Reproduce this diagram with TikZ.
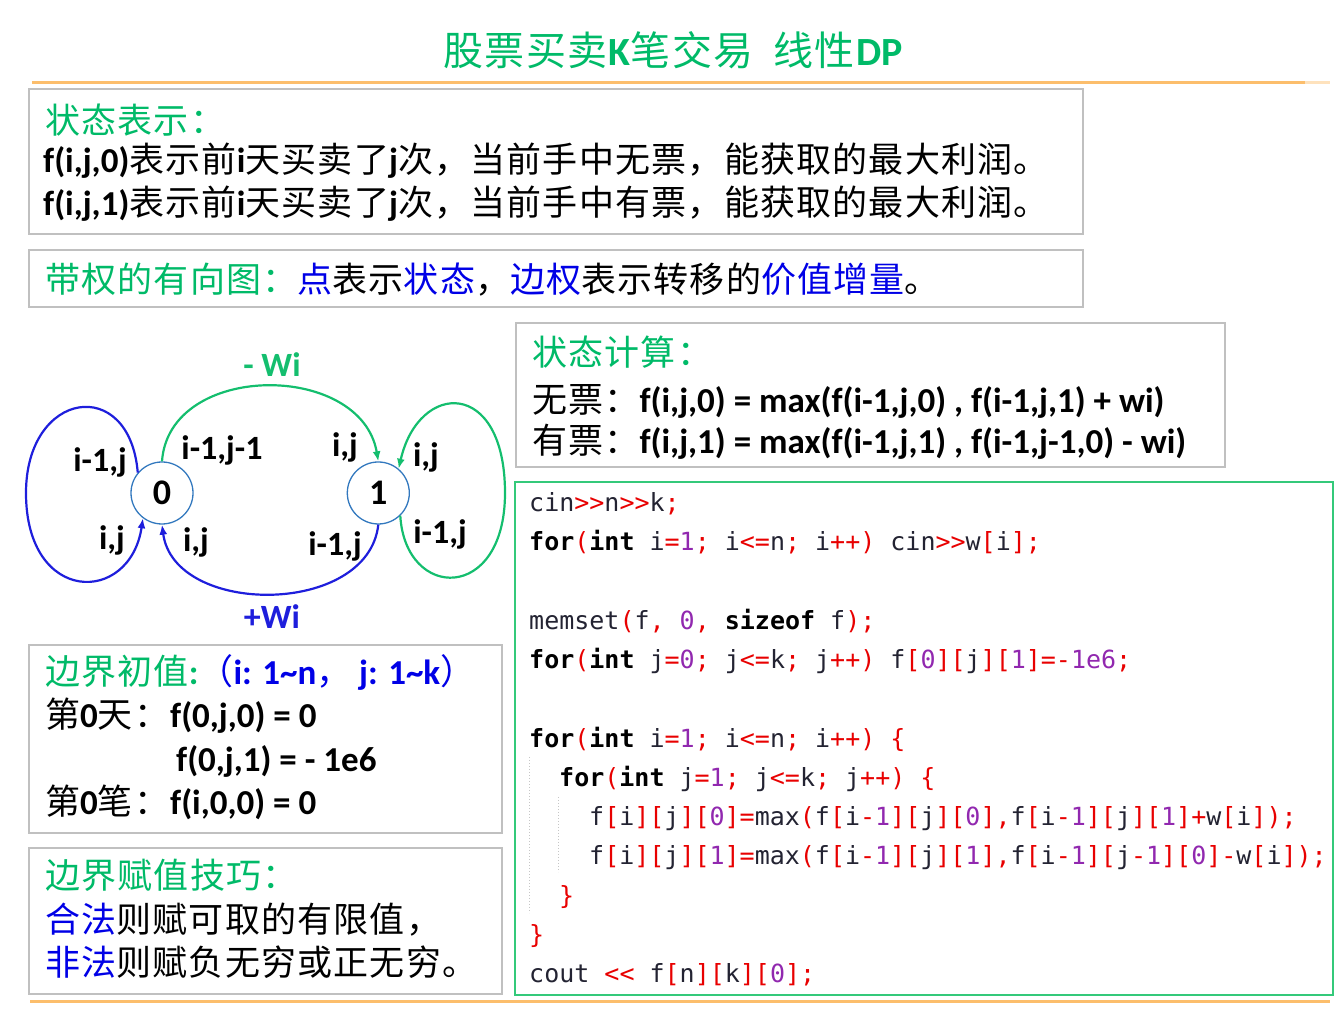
\documentclass[tikz,border=0pt]{standalone}
\usepackage{fontspec}
\setmainfont{Carlito}
\setmonofont{DejaVu Sans Mono}
\newfontfamily\cjkfont{Noto Sans CJK SC}[LetterSpace=3.5]
\usetikzlibrary{arrows.meta, positioning}
\definecolor{cHead}{RGB}{0,186,104}
\definecolor{cBlue}{RGB}{0,0,230}
\definecolor{cFrame}{RGB}{192,192,192}
\definecolor{cCode}{RGB}{52,201,122}
\definecolor{cRule}{RGB}{252,190,108}
\definecolor{cEdge}{RGB}{30,30,220}
\definecolor{cGEdge}{RGB}{20,190,110}
\definecolor{cRing}{RGB}{50,120,190}
\definecolor{cRed}{RGB}{232,0,0}
\definecolor{cNum}{RGB}{145,40,175}
\definecolor{cIdent}{RGB}{35,35,50}
\newcommand\zh[1]{{\mdseries\cjkfont #1}}
\newcommand\hd[1]{\textcolor{cHead}{#1}}
\newcommand\bl[1]{\textcolor{cBlue}{#1}}
\newcommand\codeR[1]{\textcolor{cRed}{#1}}
\newcommand\codeN[1]{\textcolor{cNum}{#1}}
\newcommand\codeK[1]{\textcolor{black}{\bfseries #1}}
\tikzset{
	panel/.style={draw=cFrame, line width=1.6pt},
	codepanel/.style={draw=cCode, line width=1.6pt},
	orangeline/.style={draw=cRule, line width=3pt},
	txt/.style={anchor=base west, inner sep=0pt, font=\bfseries\fontsize{35}{42}\selectfont},
	codeline/.style={anchor=base west, inner sep=0pt, text=cIdent, font=\ttfamily\fontsize{25}{30}\selectfont},
	% state graph styles
	stnode/.style={circle, draw=cRing, line width=1.3pt, minimum size=62pt, inner sep=0pt, font=\bfseries\fontsize{36}{40}\selectfont},
	lbl/.style={inner sep=0pt, font=\bfseries\fontsize{34}{40}\selectfont},
	buy/.style={draw=cGEdge, line width=2.2pt, -{Latex[length=10pt, width=8pt]}},
	sell/.style={draw=cEdge, line width=2.2pt, -{Latex[length=10pt, width=8pt]}},
}
\begin{document}
\begin{tikzpicture}[x=1pt, y=1pt]
	\useasboundingbox (0,0) rectangle (1338,1035);
	\node[anchor=base, inner sep=0pt, text=cHead, font=\fontsize{40}{48}\selectfont] (title) at (673,969)
		{\zh{股票买卖}\textbf{K}\zh{笔交易}\hspace{20pt}\zh{线性}\textbf{DP}};
	\draw[orangeline] (32,952) -- (1305,952); \draw[orangeline, draw=cRule!45] (1305,952) -- (1330,952);
	\draw[orangeline] (30,33) -- (1330,33);

	% boxes
	\draw[panel] (29,801) rectangle (1083,946);
	\draw[panel] (29,728) rectangle (1083,785);
	\draw[panel] (516,568) rectangle (1225,712);
	\draw[panel] (29,202) rectangle (502,390);
	\draw[panel] (29,41) rectangle (502,187);
	\draw[codepanel] (515,40) rectangle (1333,553);

	\node[txt] (s0) at (45,901) {\zh{\hd{状态表示：}}};
	\node[txt] (s1) at (43,862) {f(i,j,0)\zh{表示前}i\zh{天买卖了}j\zh{次，当前手中无票，能获取的最大利润。}};
	\node[txt] (s2) at (43,819) {f(i,j,1)\zh{表示前}i\zh{天买卖了}j\zh{次，当前手中有票，能获取的最大利润。}};
	\node[txt] (e0) at (45,742) {\zh{\hd{带权的有向图：}\bl{点}表示\bl{状态}，\bl{边权}表示转移的\bl{价值增量}。}};

	\node[txt] (c0) at (532,669) {\zh{\hd{状态计算：}}};
	\node[txt] (c1) at (532,622) {\zh{无票：}f(i,j,0) = max(f(i-1,j,0) , f(i-1,j,1) + wi)};
	\node[txt] (c2) at (532,581) {\zh{有票：}f(i,j,1) = max(f(i-1,j,1) , f(i-1,j-1,0) - wi)};

	\node[txt] (b0) at (45,350) {\zh{\hd{边界初值}}\hd{:}\bl{\zh{（}i: 1\textasciitilde n\zh{，} j: 1\textasciitilde k\zh{）}}};
	\node[txt] (b1) at (45,307) {\zh{第}0\zh{天：}};
	\node[txt] (b1f) at (170,307) {f(0,j,0) = 0};
	\node[txt] (b2f) at (176,263) {f(0,j,1) = - 1e6};
	\node[txt] (b3) at (45,220) {\zh{第}0\zh{笔：}};
	\node[txt] (b3f) at (170,220) {f(i,0,0) = 0};

	\node[txt] (t0) at (45,146) {\zh{\hd{边界赋值技巧：}}};
	\node[txt] (t1) at (45,102) {\zh{\bl{合法}则赋可取的有限值，}};
	\node[txt] (t2) at (45,59) {\zh{\bl{非法}则赋负无穷或正无穷。}};

	% code
	\draw[dotted, gray!45, line width=1pt] (529,278) -- (529,122);
	\draw[dotted, gray!45, line width=1pt] (558,238) -- (558,163);
	\node[codeline] (k1) at (529,523) {cin\codeR{>>}n\codeR{>>}k\codeR{;}};
	\node[codeline] (k2) at (529,484) {\codeK{for}\codeR{(}\codeK{int} i\codeR{=}\codeN{1}\codeR{;} i\codeR{<=}n\codeR{;} i\codeR{++)} cin\codeR{>>}w\codeR{[}i\codeR{];}};
	\node[codeline] (k3) at (529,405) {memset\codeR{(}f\codeR{,} \codeN{0}\codeR{,} \codeK{sizeof} f\codeR{);}};
	\node[codeline] (k4) at (529,366) {\codeK{for}\codeR{(}\codeK{int} j\codeR{=}\codeN{0}\codeR{;} j\codeR{<=}k\codeR{;} j\codeR{++)} f\codeR{[}\codeN{0}\codeR{][}j\codeR{][}\codeN{1}\codeR{]=-}\codeN{1e6}\codeR{;}};
	\node[codeline] (k5) at (529,287.5) {\codeK{for}\codeR{(}\codeK{int} i\codeR{=}\codeN{1}\codeR{;} i\codeR{<=}n\codeR{;} i\codeR{++)} \codeR{\{}};
	\node[codeline] (k6) at (559,248) {\codeK{for}\codeR{(}\codeK{int} j\codeR{=}\codeN{1}\codeR{;} j\codeR{<=}k\codeR{;} j\codeR{++)} \codeR{\{}};
	\node[codeline] (k7) at (589,209) {f\codeR{[}i\codeR{][}j\codeR{][}\codeN{0}\codeR{]=}max\codeR{(}f\codeR{[}i\codeR{-}\codeN{1}\codeR{][}j\codeR{][}\codeN{0}\codeR{],}f\codeR{[}i\codeR{-}\codeN{1}\codeR{][}j\codeR{][}\codeN{1}\codeR{]+}w\codeR{[}i\codeR{]);}};
	\node[codeline] (k8) at (589,170) {f\codeR{[}i\codeR{][}j\codeR{][}\codeN{1}\codeR{]=}max\codeR{(}f\codeR{[}i\codeR{-}\codeN{1}\codeR{][}j\codeR{][}\codeN{1}\codeR{],}f\codeR{[}i\codeR{-}\codeN{1}\codeR{][}j\codeR{-}\codeN{1}\codeR{][}\codeN{0}\codeR{]-}w\codeR{[}i\codeR{]);}};
	\node[codeline] (k9) at (559,130) {\codeR{\}}};
	\node[codeline] (k10) at (529,91) {\codeR{\}}};
	\node[codeline] (k11) at (529,52) {cout \codeR{<<} f\codeR{[}n\codeR{][}k\codeR{][}\codeN{0}\codeR{];}};

	% state graph
	\node[stnode] (n0) at (162,542) {0};
	\node[stnode, right=153pt of n0] (n1) {1};
	\coordinate (lft) at (26,542);
	\coordinate (rgt) at (505,542);
	\draw[buy] (n0.north) .. controls +(7,100) and +(-17,100) .. (n1.north);
	\draw[sell] (n1.south) .. controls +(-10,-92) and +(12,-92) .. (n0.south);
	\draw[sell] (n0.140) .. controls +(-8,98) and +(0,103) .. (lft) .. controls +(0,-112) and +(-13,-87) .. (n0.233);
	\draw[buy] (n1.-46) .. controls +(5,-85) and +(0,-110) .. (rgt) .. controls +(0,115) and +(20,88) .. (n1.50);
	\node[lbl] (a1) at (100,573) {i-1,j};
	\node[lbl] (a2) at (112,495) {i,j};
	\node[lbl] (a3) at (222,585) {i-1,j-1};
	\node[lbl] (a4) at (196,493) {i,j};
	\node[lbl] (a5) at (345,588) {i,j};
	\node[lbl] (a6) at (335,489) {i-1,j};
	\node[lbl] (a7) at (426,578) {i,j};
	\node[lbl] (a8) at (440,501) {i-1,j};
	\node[lbl, text=cGEdge] (wb) at (272,670) {- Wi};
	\node[lbl, text=cEdge] (ws) at (272,418) {+Wi};
\end{tikzpicture}
\end{document}
